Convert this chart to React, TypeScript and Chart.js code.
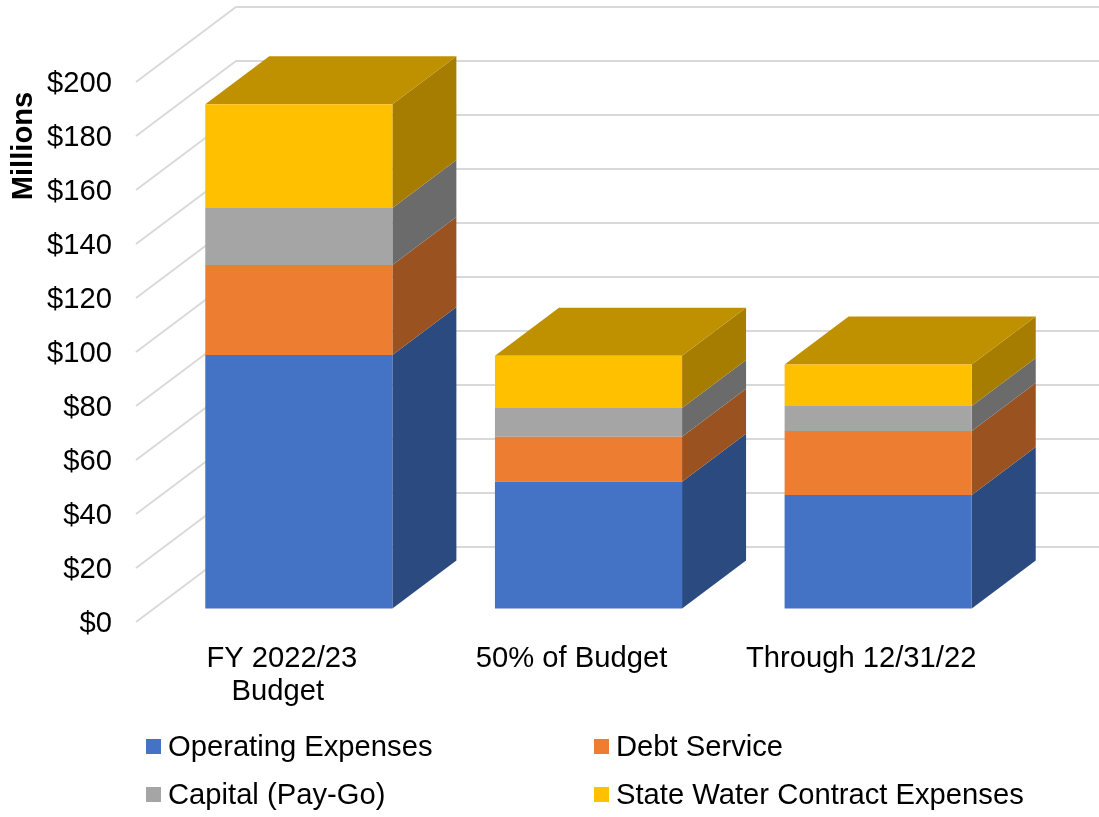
import React, { useEffect, useRef } from "react";
import { Chart, registerables } from "chart.js";

Chart.register(...registerables);

const categories = [["FY 2022/23", "Budget "], "50% of Budget", "Through 12/31/22"];
const operating = [93.9, 46.9, 42.0];
const debt = [33.3, 16.7, 23.7];
const capital = [21.1, 10.7, 9.3];
const stateWater = [38.5, 19.3, 15.4];
const yTicksMax = 200;
const yStep = 20;

const FONT = '"Liberation Sans", Arial, sans-serif';
const FONT_SIZE = 29.2;
const TEXT = "#000000";
const GRID = "#D9D9D9";

const DEPTH_X = 100;
const DEPTH_Y = 75;
const NEAR = 0.18;
const FAR = 0.82;
const LABEL_SHIFT = 2;
const LABEL_SHIFT_X = 1;

const sideColors = ["#2B4A80", "#9A5220", "#6B6B6B", "#A67D00"];
const topColor = "#BF9000";

const legendSlots = [
  { x: 146, y: 739 },
  { x: 594, y: 739 },
  { x: 146, y: 787 },
  { x: 594, y: 787 },
];

const plugin3d = {
  id: "plugin3d",
  beforeDatasetsDraw(chart: any) {
    const { ctx, scales } = chart;
    const y = scales.y;
    const x = scales.x;
    const gridLeft = x.left - LABEL_SHIFT_X;
    ctx.save();
    ctx.strokeStyle = GRID;
    ctx.lineWidth = 2;
    for (const t of y.ticks) {
      const py = y.getPixelForValue(t.value) - LABEL_SHIFT;
      ctx.beginPath();
      ctx.moveTo(gridLeft, py);
      ctx.lineTo(gridLeft + DEPTH_X, py - DEPTH_Y);
      ctx.lineTo(chart.width, py - DEPTH_Y);
      ctx.stroke();
    }
    ctx.restore();

    const ox = DEPTH_X * NEAR - LABEL_SHIFT_X;
    const oy = -DEPTH_Y * NEAR - LABEL_SHIFT;
    const dx = DEPTH_X * (FAR - NEAR);
    const dy = DEPTH_Y * (FAR - NEAR);
    ctx.save();
    ctx.translate(ox, oy);
    chart.data.datasets.forEach((_: any, di: number) => {
      chart.getDatasetMeta(di).data.forEach((bar: any) => {
        const right = bar.x + bar.width / 2;
        const left = bar.x - bar.width / 2;
        ctx.fillStyle = sideColors[di];
        ctx.beginPath();
        ctx.moveTo(right, bar.base);
        ctx.lineTo(right + dx, bar.base - dy);
        ctx.lineTo(right + dx, bar.y - dy);
        ctx.lineTo(right, bar.y);
        ctx.closePath();
        ctx.fill();
        if (di === chart.data.datasets.length - 1) {
          ctx.fillStyle = topColor;
          ctx.beginPath();
          ctx.moveTo(left, bar.y);
          ctx.lineTo(left + dx, bar.y - dy);
          ctx.lineTo(right + dx, bar.y - dy);
          ctx.lineTo(right, bar.y);
          ctx.closePath();
          ctx.fill();
        }
      });
    });
  },
  afterDatasetsDraw(chart: any) {
    const { ctx } = chart;
    ctx.restore();

    ctx.save();
    ctx.fillStyle = TEXT;
    ctx.font = `bold ${FONT_SIZE}px ${FONT}`;
    ctx.textAlign = "center";
    ctx.textBaseline = "alphabetic";
    ctx.translate(32, 146);
    ctx.rotate(-Math.PI / 2);
    ctx.fillText("Millions", 0, 0);
    ctx.restore();

    ctx.save();
    ctx.font = `${FONT_SIZE}px ${FONT}`;
    ctx.textAlign = "left";
    ctx.textBaseline = "alphabetic";
    chart.data.datasets.forEach((ds: any, i: number) => {
      const s = legendSlots[i];
      ctx.fillStyle = ds.backgroundColor;
      ctx.fillRect(s.x, s.y, 15, 15);
      ctx.fillStyle = TEXT;
      ctx.fillText(ds.label, s.x + 22, s.y + 17);
    });
    ctx.restore();
  },
};

export default function App() {
  const ref = useRef<HTMLCanvasElement>(null);
  useEffect(() => {
    const chart = new Chart(ref.current!, {
      type: "bar",
      data: {
        labels: categories as any,
        datasets: [
          { label: "Operating Expenses", data: operating, backgroundColor: "#4472C4" },
          { label: "Debt Service", data: debt, backgroundColor: "#ED7D31" },
          { label: "Capital (Pay-Go)", data: capital, backgroundColor: "#A5A5A5" },
          { label: "State Water Contract Expenses", data: stateWater, backgroundColor: "#FFC000" },
        ].map((d) => ({
          ...d,
          categoryPercentage: 1,
          barPercentage: 0.646,
          clip: false as any,
        })),
      },
      options: {
        animation: false,
        responsive: false,
        layout: { padding: { top: 82 + LABEL_SHIFT, right: 94 - LABEL_SHIFT_X, left: 0, bottom: 0 } },
        plugins: { legend: { display: false }, title: { display: false }, tooltip: { enabled: false } },
        scales: {
          x: {
            stacked: true,
            afterFit: (s: any) => {
              s.height = 195 - LABEL_SHIFT;
            },
            grid: { display: false, drawTicks: false },
            border: { display: false },
            ticks: {
              color: TEXT,
              padding: 18,
              autoSkip: false,
              maxRotation: 0,
              font: { family: FONT, size: FONT_SIZE, lineHeight: 1.15 },
            },
          },
          y: {
            stacked: true,
            min: 0,
            max: yTicksMax,
            afterFit: (s: any) => {
              s.width = 136 + LABEL_SHIFT_X;
            },
            grid: { display: false, drawTicks: false },
            border: { display: false },
            ticks: {
              stepSize: yStep,
              color: TEXT,
              padding: 25,
              callback: (v: any) => `$${v}`,
              font: { family: FONT, size: FONT_SIZE },
            },
          },
        },
      },
      plugins: [plugin3d],
    });
    return () => chart.destroy();
  }, []);
  return (
    <div style={{ position: "absolute", left: 0, top: 0, width: 1099, height: 817, background: "#fff" }}>
      <canvas ref={ref} width={1099} height={817} style={{ display: "block" }} />
    </div>
  );
}
